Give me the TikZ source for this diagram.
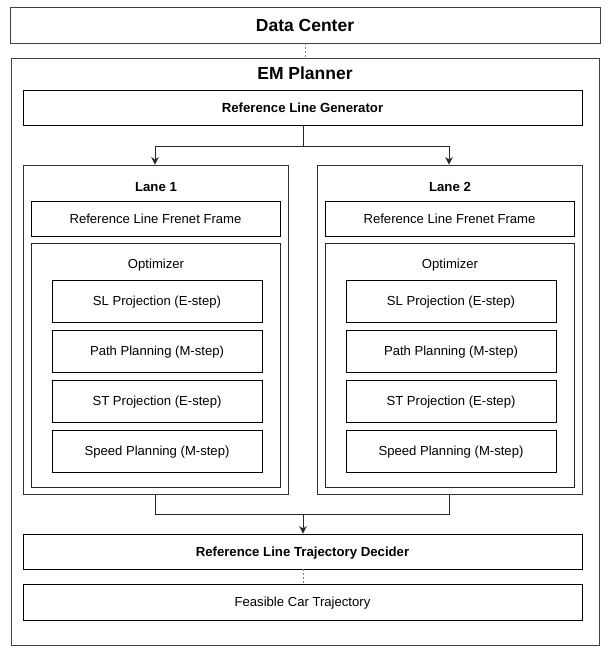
\documentclass[tikz,border=0pt]{standalone}
\usepackage{fontspec}
\setmainfont{Liberation Sans}
\usetikzlibrary{arrows.meta}
\tikzset{
  box/.style={draw=#1, line width=0.9pt, inner sep=0pt, fill=white},
  box/.default={black!85},
  title/.style={font=\bfseries\fontsize{17.5}{20}\selectfont, inner sep=0pt, text height=12.6pt, text depth=0pt},
  subtitle/.style={font=\bfseries\fontsize{13.2}{15}\selectfont, inner sep=0pt, text height=9.5pt, text depth=0pt},
  label/.style={font=\fontsize{13.1}{15}\selectfont, inner sep=0pt, text height=9.4pt, text depth=0pt},
  conn/.style={line width=0.9pt, draw=black!85},
  arr/.style={conn, -{Stealth[length=7.5pt,width=7.5pt]}},
  dashconn/.style={line width=0.9pt, draw=black!50, dash pattern=on 2pt off 2pt},
}
\begin{document}
\begin{tikzpicture}[x=1pt,y=-1pt]
\useasboundingbox (0,0) rectangle (610,654);
% Data Center
\node[box=black!75, minimum width=590, minimum height=36, title] (dc) at (305,25) {Data Center};
% EM Planner container
\node[box=black!75, minimum width=588, minimum height=587] (em) at (305,351.5) {};
\node[title] (emt) at (305,73) {EM Planner};
\draw[dashconn] (dc.south) -- (em.north);
% Reference Line Generator
\node[box=black, minimum width=559, minimum height=35, subtitle] (rlg) at (302.5,107.5) {Reference Line Generator};
% Lanes
\foreach \i/\dx in {1/0, 2/294}{
  \node[box=black!80, minimum width=265, minimum height=329] (lane\i) at ({155.5+\dx},329.5) {};
  \node[subtitle] (lanet\i) at ({156+\dx},187) {Lane \i};
  \node[box=black, minimum width=249, minimum height=35, label] (frenet\i) at ({155.5+\dx},218.5) {Reference Line Frenet Frame};
  \node[box=black!85, minimum width=249, minimum height=244] (opt\i) at ({155.5+\dx},365) {};
  \node[label] (optt\i) at ({156+\dx},264) {Optimizer};
  \node[box=black, minimum width=210, minimum height=42, label] (sl\i) at ({157+\dx},301) {SL Projection (E-step)};
  \node[box=black, minimum width=210, minimum height=42, label] (pp\i) at ({157+\dx},351) {Path Planning (M-step)};
  \node[box=black, minimum width=210, minimum height=42, label] (st\i) at ({157+\dx},401) {ST Projection (E-step)};
  \node[box=black, minimum width=210, minimum height=42, label] (sp\i) at ({157+\dx},451) {Speed Planning (M-step)};
}
% Fan-out from generator
\coordinate (split) at (303,146);
\draw[conn] (rlg.south -| split) -- (split);
\draw[arr] (split) -| ([xshift=-0.5pt]lane1.north);
\draw[arr] (split) -| ([xshift=-0.5pt]lane2.north);
% Decider
\node[box=black, minimum width=559, minimum height=35, subtitle] (dec) at (302.5,551.5) {Reference Line Trajectory Decider};
\coordinate (merge) at (303,514);
\draw[conn] ([xshift=-0.5pt]lane1.south) |- ([xshift=-0.5pt]lane2.south |- merge) -- ([xshift=-0.5pt]lane2.south);
\draw[arr] (merge) -- (merge |- dec.north);
% Feasible car trajectory
\node[box=black, minimum width=559, minimum height=36, label] (fct) at (302.5,602) {Feasible Car Trajectory};
\draw[dashconn] (dec.south -| merge) -- (fct.north -| merge);
\end{tikzpicture}
\end{document}
